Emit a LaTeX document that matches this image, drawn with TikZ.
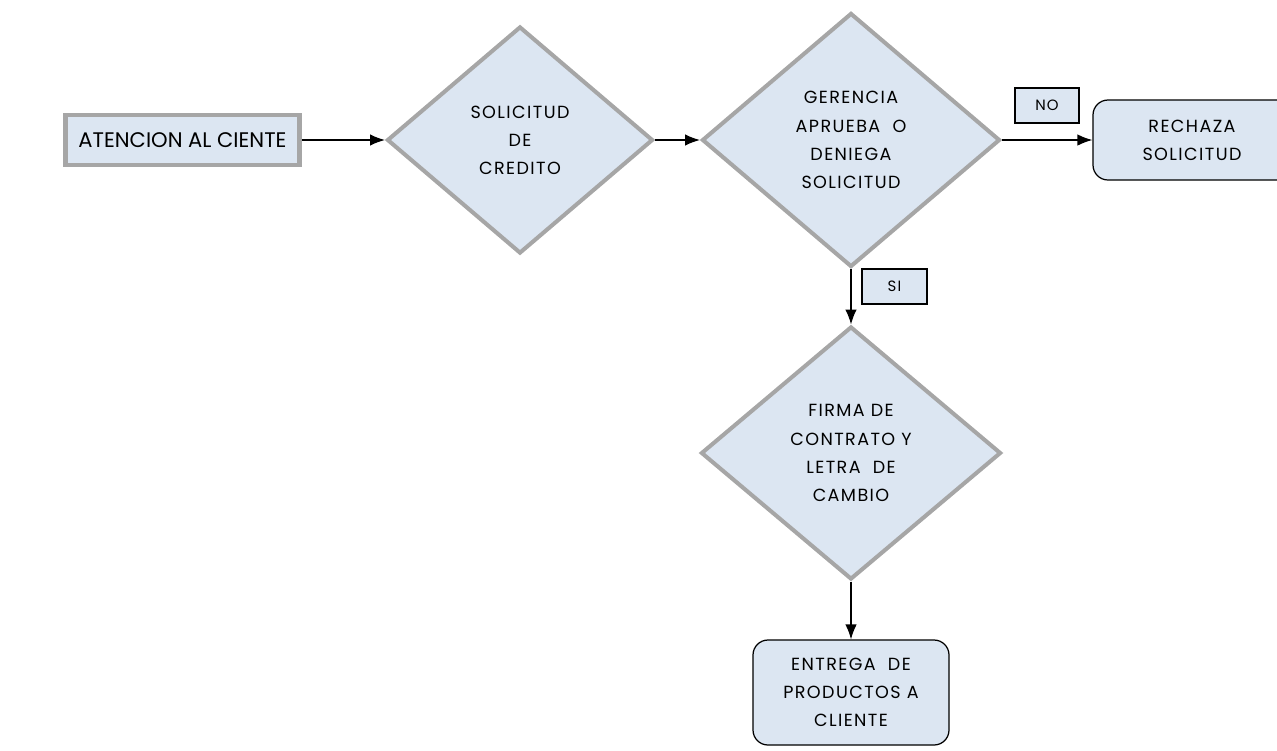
\documentclass[tikz,border=0pt]{standalone}
\usepackage{fontspec}
\setmainfont[LetterSpace=8]{Poppins}
\newfontfamily\atenfont{Poppins}
\usepackage{tikz}
\usetikzlibrary{arrows.meta, shapes.geometric}
\definecolor{cajazul}{HTML}{DCE6F2}
\definecolor{bordegris}{HTML}{A6A6A6}
\tikzset{
  txt/.style={font=\fontsize{10}{16}\selectfont, align=center},
  decision/.style={diamond, draw=bordegris, line width=2.3pt, fill=cajazul, inner sep=0pt, txt},
  proceso/.style={rectangle, rounded corners=0.3cm, draw=black, line width=0.7pt, fill=cajazul, txt},
  etiq/.style={rectangle, draw=black, line width=0.7pt, fill=cajazul, minimum width=1.28cm, minimum height=0.7cm, font=\fontsize{8.5}{10}\selectfont},
  flecha/.style={-{Latex[length=8.5pt,width=6.5pt]}, line width=0.7pt}
}

\begin{document}
\begin{tikzpicture}
    \useasboundingbox (0,0) rectangle (25.54,-15);
    \begin{scope}
    \clip (0,0) rectangle (25.54,-15);
    \node[rectangle, draw=bordegris, line width=2.8pt, fill=cajazul, minimum width=4.68cm, minimum height=1.0cm, font=\atenfont\fontsize{12}{14}\selectfont] (aten) at (3.65,-2.8) {ATENCION AL CIENTE};
    \node[decision, minimum width=5.32cm, minimum height=4.54cm] (solic) at (10.4,-2.8) {SOLICITUD\\DE\\CREDITO};
    \node[decision, minimum width=5.96cm, minimum height=5.08cm] (geren) at (17.02,-2.8) {GERENCIA\\APRUEBA\ \ O\\DENIEGA\\SOLICITUD};
    \node[proceso, minimum width=3.96cm, minimum height=1.6cm] (rechaza) at (23.84,-2.8) {RECHAZA\\SOLICITUD};
    \node[decision, minimum width=6.0cm, minimum height=5.06cm] (firma) at (17.02,-9.06) {FIRMA DE\\CONTRATO Y\\LETRA\ \ DE\\CAMBIO};
    \node[proceso, minimum width=3.92cm, minimum height=2.1cm] (entrega) at (17.02,-13.85) {ENTREGA\ \ DE\\PRODUCTOS A\\CLIENTE};
    \node[etiq] (no) at (20.94,-2.11) {NO};
    \node[etiq, minimum width=1.3cm] (si) at (17.89,-5.73) {SI};

    \draw[flecha] (aten) -- (solic);
    \draw[flecha] (solic) -- (geren);
    \draw[flecha] (geren) -- (rechaza);
    \draw[flecha] (geren) -- (firma);
    \draw[flecha] (firma) -- (entrega);
    \end{scope}
\end{tikzpicture}
\end{document}
